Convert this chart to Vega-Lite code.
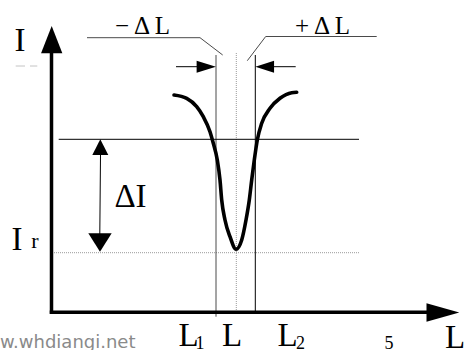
{
  "$schema": "https://vega.github.io/schema/vega-lite/v6.json",
  "width": 473,
  "height": 350,
  "padding": 0,
  "autosize": {"type": "fit", "contains": "padding"},
  "config": {"view": {"stroke": null}},
  "datasets": {
    "segments": [
      {"kind": "axis", "x": 51.5, "y": 38, "x2": 51.5, "y2": 297},
      {"kind": "axis", "x": 51.5, "y": 37.7, "x2": 428, "y2": 37.7},
      {"kind": "thin", "x": 255.3, "y": 38, "x2": 255.3, "y2": 295},
      {"kind": "thin", "x": 58.7, "y": 210.7, "x2": 359, "y2": 210.7},
      {"kind": "thin", "x": 100.5, "y": 196, "x2": 99.8, "y2": 116},
      {"kind": "thin", "x": 176, "y": 283.3, "x2": 198, "y2": 283.3},
      {"kind": "thin", "x": 273, "y": 283.3, "x2": 295.7, "y2": 283.3},
      {"kind": "gray", "x": 216, "y": 33.3, "x2": 216, "y2": 295},
      {"kind": "gray", "x": 87, "y": 312.3, "x2": 200, "y2": 312.3},
      {"kind": "gray", "x": 200, "y": 312.3, "x2": 222.7, "y2": 295},
      {"kind": "gray", "x": 265.7, "y": 313.5, "x2": 376.7, "y2": 313.5},
      {"kind": "gray", "x": 265.7, "y": 313.5, "x2": 247.3, "y2": 289.3},
      {"kind": "dotted", "x": 236.3, "y": 38, "x2": 236.3, "y2": 298},
      {"kind": "dotted", "x": 54, "y": 97.3, "x2": 359, "y2": 97.3},
      {"kind": "faint", "x": 15.7, "y": 284, "x2": 25, "y2": 284},
      {"kind": "faint", "x": 30, "y": 284, "x2": 37.3, "y2": 284}
    ],
    "heads": [
      {"kind": "yaxis", "x": 51.7, "y": 310.3},
      {"kind": "xaxis", "x": 442.9, "y": 37.5},
      {"kind": "dl_left", "x": 206.3, "y": 283.3},
      {"kind": "dl_right", "x": 264.7, "y": 283.3},
      {"kind": "di_top", "x": 100.3, "y": 202.8},
      {"kind": "di_bottom", "x": 100, "y": 107.5}
    ],
    "curve": [
      {"x": 174, "y": 255},
      {"x": 186.7, "y": 251.7},
      {"x": 196.7, "y": 243.3},
      {"x": 203.3, "y": 233.3},
      {"x": 210, "y": 218.3},
      {"x": 213.3, "y": 206.7},
      {"x": 217.3, "y": 190},
      {"x": 220, "y": 170},
      {"x": 221.7, "y": 150},
      {"x": 225, "y": 130},
      {"x": 230, "y": 113.3},
      {"x": 236, "y": 100.7},
      {"x": 241.7, "y": 110},
      {"x": 246, "y": 130},
      {"x": 249.3, "y": 150},
      {"x": 251.7, "y": 170},
      {"x": 254.3, "y": 190},
      {"x": 257.3, "y": 210},
      {"x": 261.7, "y": 226.7},
      {"x": 270, "y": 241.7},
      {"x": 280, "y": 251.7},
      {"x": 291.7, "y": 257.3},
      {"x": 296.7, "y": 257.7}
    ],
    "labels": [
      {"kind": "big", "x": 20, "y": 299, "text": "I"},
      {"kind": "big", "x": 130.5, "y": 143, "text": "ΔI"},
      {"kind": "big", "x": 17, "y": 100, "text": "I"},
      {"kind": "big", "x": 188.5, "y": 4, "text": "L"},
      {"kind": "big", "x": 232, "y": 4, "text": "L"},
      {"kind": "big", "x": 287.5, "y": 4, "text": "L"},
      {"kind": "big", "x": 455, "y": 2, "text": "L"},
      {"kind": "mid", "x": 142.5, "y": 316, "text": "− Δ L"},
      {"kind": "mid", "x": 322.5, "y": 316, "text": "+ Δ L"},
      {"kind": "r", "x": 35, "y": 102, "text": "r"},
      {"kind": "small", "x": 200, "y": 1, "text": "1"},
      {"kind": "small", "x": 300.5, "y": 1, "text": "2"},
      {"kind": "small", "x": 389, "y": 1, "text": "5"},
      {"kind": "mark", "x": 0, "y": 2, "text": "w.whdiangi.net"}
    ]
  },
  "encoding": {
    "x": {"field": "x", "type": "quantitative", "scale": {"domain": [0, 473], "nice": false, "zero": false}, "axis": null},
    "y": {"field": "y", "type": "quantitative", "scale": {"domain": [0, 350], "nice": false, "zero": false}, "axis": null}
  },
  "layer": [
    {
      "data": {"name": "segments"},
      "transform": [{"filter": "datum.kind == 'faint'"}],
      "mark": {"type": "rule", "color": "#c4c4c4", "strokeWidth": 1},
      "encoding": {"x2": {"field": "x2"}, "y2": {"field": "y2"}}
    },
    {
      "data": {"name": "segments"},
      "transform": [{"filter": "datum.kind == 'dotted'"}],
      "mark": {"type": "rule", "color": "#9a9a9a", "strokeWidth": 1, "strokeDash": [1, 1]},
      "encoding": {"x2": {"field": "x2"}, "y2": {"field": "y2"}}
    },
    {
      "data": {"name": "segments"},
      "transform": [{"filter": "datum.kind == 'gray'"}],
      "mark": {"type": "rule", "color": "#4a4a4a", "strokeWidth": 1},
      "encoding": {"x2": {"field": "x2"}, "y2": {"field": "y2"}}
    },
    {
      "data": {"name": "segments"},
      "transform": [{"filter": "datum.kind == 'thin'"}],
      "mark": {"type": "rule", "color": "#000000", "strokeWidth": 1},
      "encoding": {"x2": {"field": "x2"}, "y2": {"field": "y2"}}
    },
    {
      "data": {"name": "segments"},
      "transform": [{"filter": "datum.kind == 'axis'"}],
      "mark": {"type": "rule", "color": "#000000", "strokeWidth": 3.5, "strokeCap": "square"},
      "encoding": {"x2": {"field": "x2"}, "y2": {"field": "y2"}}
    },
    {
      "data": {"name": "curve"},
      "mark": {"type": "line", "color": "#000000", "strokeWidth": 3.6, "interpolate": "monotone", "strokeCap": "round"},
      "encoding": {}
    },
    {
      "data": {"name": "heads"},
      "transform": [{"filter": "datum.kind == 'yaxis'"}],
      "mark": {"type": "point", "shape": "M0,-1L0.78,1L-0.78,1Z", "size": 745, "filled": true, "color": "#000000", "opacity": 1, "strokeWidth": 0}
    },
    {
      "data": {"name": "heads"},
      "transform": [{"filter": "datum.kind == 'xaxis'"}],
      "mark": {"type": "point", "shape": "M1,0L-1,0.56L-1,-0.56Z", "size": 1076, "filled": true, "color": "#000000", "opacity": 1, "strokeWidth": 0}
    },
    {
      "data": {"name": "heads"},
      "transform": [{"filter": "datum.kind == 'dl_left'"}],
      "mark": {"type": "point", "shape": "M1,0L-1,0.62L-1,-0.62Z", "size": 372, "filled": true, "color": "#000000", "opacity": 1, "strokeWidth": 0}
    },
    {
      "data": {"name": "heads"},
      "transform": [{"filter": "datum.kind == 'dl_right'"}],
      "mark": {"type": "point", "shape": "M-1,0L1,0.64L1,-0.64Z", "size": 350, "filled": true, "color": "#000000", "opacity": 1, "strokeWidth": 0}
    },
    {
      "data": {"name": "heads"},
      "transform": [{"filter": "datum.kind == 'di_top'"}],
      "mark": {"type": "point", "shape": "M0,-1L1.02,1L-1.02,1Z", "size": 246, "filled": true, "color": "#000000", "opacity": 1, "strokeWidth": 0}
    },
    {
      "data": {"name": "heads"},
      "transform": [{"filter": "datum.kind == 'di_bottom'"}],
      "mark": {"type": "point", "shape": "M0,1L1.27,-1L-1.27,-1Z", "size": 339, "filled": true, "color": "#000000", "opacity": 1, "strokeWidth": 0}
    },
    {
      "data": {"name": "labels"},
      "transform": [{"filter": "datum.kind == 'big'"}],
      "mark": {"type": "text", "font": "Liberation Serif", "fontSize": 33, "align": "center", "baseline": "alphabetic", "color": "#000000", "clip": true},
      "encoding": {"text": {"field": "text"}}
    },
    {
      "data": {"name": "labels"},
      "transform": [{"filter": "datum.kind == 'mid'"}],
      "mark": {"type": "text", "font": "Liberation Serif", "fontSize": 25, "align": "center", "baseline": "alphabetic", "color": "#000000", "clip": true},
      "encoding": {"text": {"field": "text"}}
    },
    {
      "data": {"name": "labels"},
      "transform": [{"filter": "datum.kind == 'r'"}],
      "mark": {"type": "text", "font": "Liberation Serif", "fontSize": 22, "align": "center", "baseline": "alphabetic", "color": "#000000", "clip": true},
      "encoding": {"text": {"field": "text"}}
    },
    {
      "data": {"name": "labels"},
      "transform": [{"filter": "datum.kind == 'small'"}],
      "mark": {"type": "text", "font": "Liberation Serif", "fontSize": 18, "align": "center", "baseline": "alphabetic", "color": "#000000", "clip": true},
      "encoding": {"text": {"field": "text"}}
    },
    {
      "data": {"name": "labels"},
      "transform": [{"filter": "datum.kind == 'mark'"}],
      "mark": {"type": "text", "font": "DejaVu Sans", "fontSize": 18, "align": "left", "baseline": "alphabetic", "color": "#8a8a8a", "clip": true},
      "encoding": {"text": {"field": "text"}}
    }
  ]
}
